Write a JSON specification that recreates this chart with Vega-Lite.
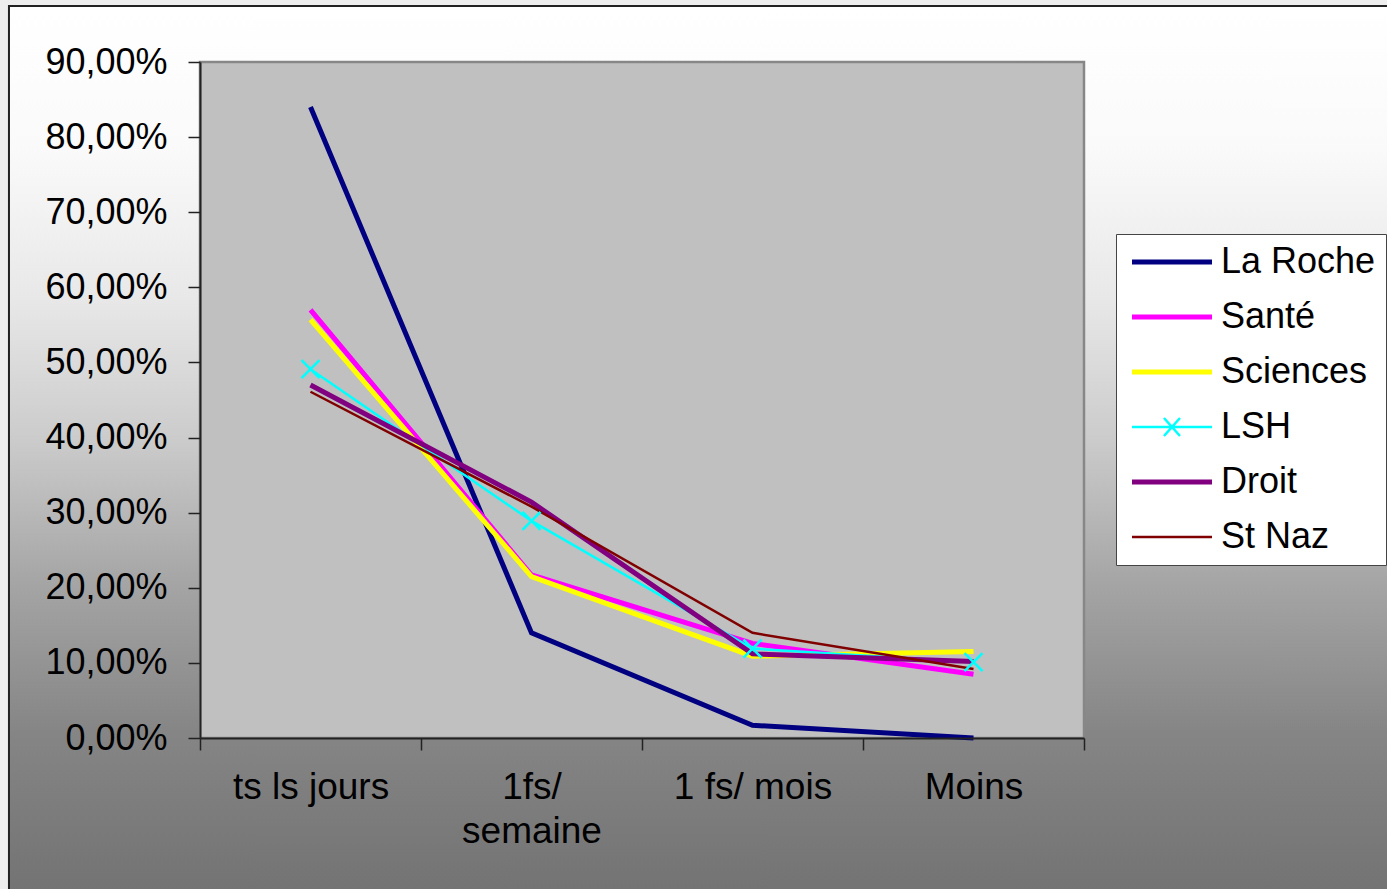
{
  "$schema": "https://vega.github.io/schema/vega-lite/v6.json",
  "width": 884,
  "height": 676,
  "autosize": "none",
  "padding": {"left": 200, "top": 62, "right": 303, "bottom": 151},
  "background": "#EEEEEE",
  "config": {
    "view": {"stroke": null},
    "font": "Liberation Sans"
  },
  "datasets": {
    "usage": [
      {"freq": "ts ls jours", "serie": "La Roche", "value": 0.84},
      {"freq": "1fs/\nsemaine", "serie": "La Roche", "value": 0.14},
      {"freq": "1 fs/ mois", "serie": "La Roche", "value": 0.017},
      {"freq": "Moins", "serie": "La Roche", "value": 0.0},
      {"freq": "ts ls jours", "serie": "Santé", "value": 0.57},
      {"freq": "1fs/\nsemaine", "serie": "Santé", "value": 0.217},
      {"freq": "1 fs/ mois", "serie": "Santé", "value": 0.126},
      {"freq": "Moins", "serie": "Santé", "value": 0.085},
      {"freq": "ts ls jours", "serie": "Sciences", "value": 0.557},
      {"freq": "1fs/\nsemaine", "serie": "Sciences", "value": 0.215},
      {"freq": "1 fs/ mois", "serie": "Sciences", "value": 0.109},
      {"freq": "Moins", "serie": "Sciences", "value": 0.115},
      {"freq": "ts ls jours", "serie": "LSH", "value": 0.491},
      {"freq": "1fs/\nsemaine", "serie": "LSH", "value": 0.289},
      {"freq": "1 fs/ mois", "serie": "LSH", "value": 0.119},
      {"freq": "Moins", "serie": "LSH", "value": 0.101},
      {"freq": "ts ls jours", "serie": "Droit", "value": 0.47},
      {"freq": "1fs/\nsemaine", "serie": "Droit", "value": 0.314},
      {"freq": "1 fs/ mois", "serie": "Droit", "value": 0.112},
      {"freq": "Moins", "serie": "Droit", "value": 0.102},
      {"freq": "ts ls jours", "serie": "St Naz", "value": 0.461},
      {"freq": "1fs/\nsemaine", "serie": "St Naz", "value": 0.308},
      {"freq": "1 fs/ mois", "serie": "St Naz", "value": 0.14},
      {"freq": "Moins", "serie": "St Naz", "value": 0.092}
    ],
    "panel": [{"part": "chart area"}]
  },
  "resolve": {"scale": {"x": "independent"}},
  "layer": [
    {
      "data": {"name": "panel"},
      "mark": {
        "type": "rect",
        "stroke": "#222222",
        "strokeWidth": 2,
        "fill": {
          "gradient": "linear",
          "x1": 0, "y1": 0, "x2": 0, "y2": 1,
          "stops": [
            {"offset": 0, "color": "#FFFFFF"},
            {"offset": 0.16, "color": "#FAFAFA"},
            {"offset": 0.33, "color": "#E8E8E8"},
            {"offset": 0.49, "color": "#CBCBCB"},
            {"offset": 0.65, "color": "#A5A5A5"},
            {"offset": 0.82, "color": "#858585"},
            {"offset": 1, "color": "#737373"}
          ]
        }
      },
      "encoding": {
        "x": {"datum": -0.2161, "type": "quantitative", "scale": {"domain": [0, 1], "nice": false, "zero": false}, "axis": null},
        "x2": {"datum": 1.4},
        "y": {"datum": 0.9746, "type": "quantitative", "scale": {"domain": [0, 0.9], "nice": false}, "axis": {"title": null}},
        "y2": {"datum": -0.206}
      }
    },
    {
      "data": {"name": "panel"},
      "mark": {"type": "rect", "fill": "#C0C0C0", "stroke": "#878787", "strokeWidth": 2.5},
      "encoding": {
        "x": {"datum": 0, "type": "quantitative", "scale": {"domain": [0, 1], "nice": false, "zero": false}, "axis": null},
        "x2": {"datum": 1},
        "y": {"datum": 0, "type": "quantitative", "scale": {"domain": [0, 0.9], "nice": false}, "axis": {"title": null}},
        "y2": {"datum": 0.9}
      }
    },
    {
      "data": {"name": "usage"},
      "mark": {"type": "line", "strokeCap": "butt", "strokeJoin": "miter"},
      "encoding": {
        "x": {
          "field": "freq", "type": "nominal",
          "sort": ["ts ls jours", "1fs/\nsemaine", "1 fs/ mois", "Moins"],
          "scale": {"type": "band", "paddingInner": 0, "paddingOuter": 0},
          "axis": {
            "title": null, "zindex": 1, "labelAngle": 0,
            "labelExpr": "isValid(datum.value) ? split(datum.value, '\\n') : ''",
            "labelFont": "Liberation Sans", "labelFontSize": 37, "labelColor": "#000000",
            "labelLineHeight": 44, "labelPadding": 19,
            "tickBand": "extent", "tickSize": 12, "tickColor": "#222222", "tickWidth": 1.5,
            "domainColor": "#222222", "domainWidth": 2, "grid": false
          }
        },
        "y": {
          "field": "value", "type": "quantitative",
          "scale": {"domain": [0, 0.9], "nice": false},
          "axis": {
            "title": null, "zindex": 1,
            "values": [0, 0.1, 0.2, 0.3, 0.4, 0.5, 0.6, 0.7, 0.8, 0.9],
            "labelExpr": "replace(format(datum.value, '.2%'), '.', ',')",
            "labelFont": "Liberation Sans", "labelFontSize": 36, "labelColor": "#000000",
            "labelPadding": 21, "tickSize": 12, "tickColor": "#222222", "tickWidth": 1.5,
            "domainColor": "#222222", "domainWidth": 2, "grid": false
          }
        },
        "color": {
          "field": "serie", "type": "nominal",
          "scale": {
            "domain": ["La Roche", "Santé", "Sciences", "LSH", "Droit", "St Naz"],
            "range": ["#000080", "#FF00FF", "#FFFF00", "#00FFFF", "#800080", "#800000"]
          },
          "legend": {
            "orient": "none", "legendX": 916, "legendY": 172, "title": null,
            "padding": 10, "fillColor": "#FFFFFF", "strokeColor": "#444444",
            "labelFont": "Liberation Sans", "labelFontSize": 36, "labelColor": "#000000",
            "symbolSize": 900, "symbolType": "M-0.8,0L4.533,0",
            "labelOffset": 59, "rowPadding": 19, "zindex": 1,
            "encode": {
              "symbols": {
                "update": {
                  "strokeWidth": {"signal": "indexof(['LSH', 'St Naz'], datum.value) >= 0 ? 2.5 : 5"},
                  "shape": {"signal": "datum.value === 'LSH' ? 'M-0.8,0L4.533,0M1.33,-0.6L2.4,0.6M1.33,0.6L2.4,-0.6' : 'M-0.8,0L4.533,0'"},
                  "fill": {"value": "transparent"}
                }
              }
            }
          }
        },
        "strokeWidth": {
          "condition": {"test": "datum.serie === 'LSH' || datum.serie === 'St Naz'", "value": 2.5},
          "value": 5
        }
      }
    },
    {
      "data": {"name": "usage"},
      "transform": [{"filter": "datum.serie === 'LSH'"}],
      "mark": {"type": "point", "shape": "M-1,-1L1,1M-1,1L1,-1", "size": 324, "filled": false, "strokeWidth": 2.5, "opacity": 1},
      "encoding": {
        "x": {"field": "freq", "type": "nominal", "sort": ["ts ls jours", "1fs/\nsemaine", "1 fs/ mois", "Moins"], "scale": {"type": "band", "paddingInner": 0, "paddingOuter": 0}, "axis": null},
        "y": {"field": "value", "type": "quantitative", "scale": {"domain": [0, 0.9], "nice": false}},
        "color": {"value": "#00FFFF"}
      }
    }
  ]
}
